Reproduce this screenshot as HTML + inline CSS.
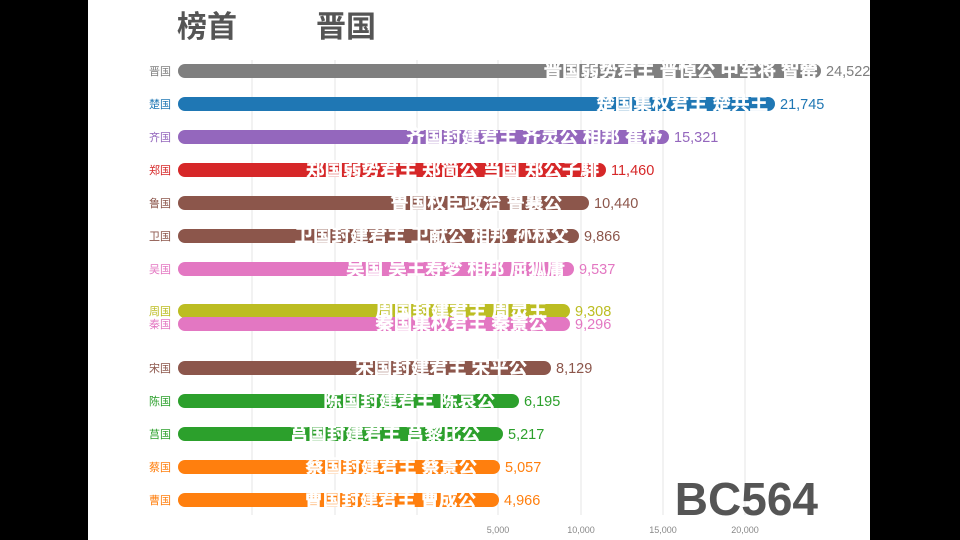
<!DOCTYPE html>
<html><head><meta charset="utf-8"><style>
body{margin:0;background:#000;}
svg{display:block;}
text{font-family:"Liberation Sans","Noto Sans CJK SC",sans-serif;}
</style></head><body>
<svg width="960" height="540" viewBox="0 0 960 540">
<rect x="0" y="0" width="960" height="540" fill="#000"/>
<rect x="88" y="0" width="782" height="540" fill="#fff"/>
<g stroke="#e4e4e4" stroke-width="1">
<line x1="252" y1="60" x2="252" y2="515"/><line x1="335" y1="60" x2="335" y2="515"/>
<line x1="417" y1="60" x2="417" y2="515"/><line x1="498" y1="60" x2="498" y2="515"/>
<line x1="581" y1="60" x2="581" y2="515"/><line x1="663" y1="60" x2="663" y2="515"/>
<line x1="745" y1="60" x2="745" y2="515"/>
</g>
<g font-size="9" fill="#888" text-anchor="middle">
<text x="498" y="533">5,000</text><text x="581" y="533">10,000</text>
<text x="663" y="533">15,000</text><text x="745" y="533">20,000</text>
</g>
<text x="177" y="37" font-size="30" font-weight="bold" fill="#555">榜首</text>
<text x="316" y="37" font-size="30" font-weight="bold" fill="#555">晋国</text>
<text x="818" y="515" font-size="46" font-weight="bold" fill="#555" text-anchor="end">BC564</text>
<g stroke-linecap="round" stroke-width="14">
<line x1="185" y1="71" x2="814" y2="71" stroke="#7f7f7f"/>
<line x1="185" y1="104" x2="768" y2="104" stroke="#1f77b4"/>
<line x1="185" y1="137" x2="662" y2="137" stroke="#9467bd"/>
<line x1="185" y1="170" x2="599" y2="170" stroke="#d62728"/>
<line x1="185" y1="203" x2="582" y2="203" stroke="#8c564b"/>
<line x1="185" y1="236" x2="572" y2="236" stroke="#8c564b"/>
<line x1="185" y1="269" x2="567" y2="269" stroke="#e377c2"/>
<line x1="185" y1="311" x2="563" y2="311" stroke="#bcbd22"/>
<line x1="185" y1="324" x2="563" y2="324" stroke="#e377c2"/>
<line x1="185" y1="368" x2="544" y2="368" stroke="#8c564b"/>
<line x1="185" y1="401" x2="512" y2="401" stroke="#2ca02c"/>
<line x1="185" y1="434" x2="496" y2="434" stroke="#2ca02c"/>
<line x1="185" y1="467" x2="493" y2="467" stroke="#ff7f0e"/>
<line x1="185" y1="500" x2="492" y2="500" stroke="#ff7f0e"/>
</g>
<g font-size="11" text-anchor="end">
<text x="171" y="75" fill="#7f7f7f">晋国</text>
<text x="171" y="108" fill="#1f77b4">楚国</text>
<text x="171" y="141" fill="#9467bd">齐国</text>
<text x="171" y="174" fill="#d62728">郑国</text>
<text x="171" y="207" fill="#8c564b">鲁国</text>
<text x="171" y="240" fill="#8c564b">卫国</text>
<text x="171" y="273" fill="#e377c2">吴国</text>
<text x="171" y="315" fill="#bcbd22">周国</text>
<text x="171" y="328" fill="#e377c2">秦国</text>
<text x="171" y="372" fill="#8c564b">宋国</text>
<text x="171" y="405" fill="#2ca02c">陈国</text>
<text x="171" y="438" fill="#2ca02c">莒国</text>
<text x="171" y="471" fill="#ff7f0e">蔡国</text>
<text x="171" y="504" fill="#ff7f0e">曹国</text>
</g>
<g font-size="18.5" font-weight="bold" fill="#fff" text-anchor="end" stroke="#fff" stroke-width="0.4">
<text x="818" y="77">晋国弱势君主 晋悼公 中军将 智罃</text>
<text x="768" y="110">楚国集权君主 楚共王</text>
<text x="662" y="143">齐国封建君主 齐灵公 相邦 崔杼</text>
<text x="599" y="176">郑国弱势君主 郑简公 当国 郑公子騑</text>
<text x="562" y="209">鲁国权臣政治 鲁襄公</text>
<text x="569" y="242">卫国封建君主 卫献公 相邦 孙林父</text>
<text x="565" y="275">吴国 吴王寿梦 相邦 屈狐庸</text>
<text x="547" y="317">周国封建君主 周灵王</text>
<text x="547" y="330">秦国集权君主 秦景公</text>
<text x="527" y="374">宋国封建君主 宋平公</text>
<text x="495" y="407">陈国封建君主 陈哀公</text>
<text x="480" y="440">莒国封建君主 莒黎比公</text>
<text x="477" y="473">蔡国封建君主 蔡景公</text>
<text x="476" y="506">曹国封建君主 曹成公</text>
</g>
<g font-size="14.5">
<text x="826" y="76" fill="#7f7f7f">24,522</text>
<text x="780" y="109" fill="#1f77b4">21,745</text>
<text x="674" y="142" fill="#9467bd">15,321</text>
<text x="611" y="175" fill="#d62728">11,460</text>
<text x="594" y="208" fill="#8c564b">10,440</text>
<text x="584" y="241" fill="#8c564b">9,866</text>
<text x="579" y="274" fill="#e377c2">9,537</text>
<text x="575" y="316" fill="#bcbd22">9,308</text>
<text x="575" y="329" fill="#e377c2">9,296</text>
<text x="556" y="373" fill="#8c564b">8,129</text>
<text x="524" y="406" fill="#2ca02c">6,195</text>
<text x="508" y="439" fill="#2ca02c">5,217</text>
<text x="505" y="472" fill="#ff7f0e">5,057</text>
<text x="504" y="505" fill="#ff7f0e">4,966</text>
</g>
</svg>
</body></html>
